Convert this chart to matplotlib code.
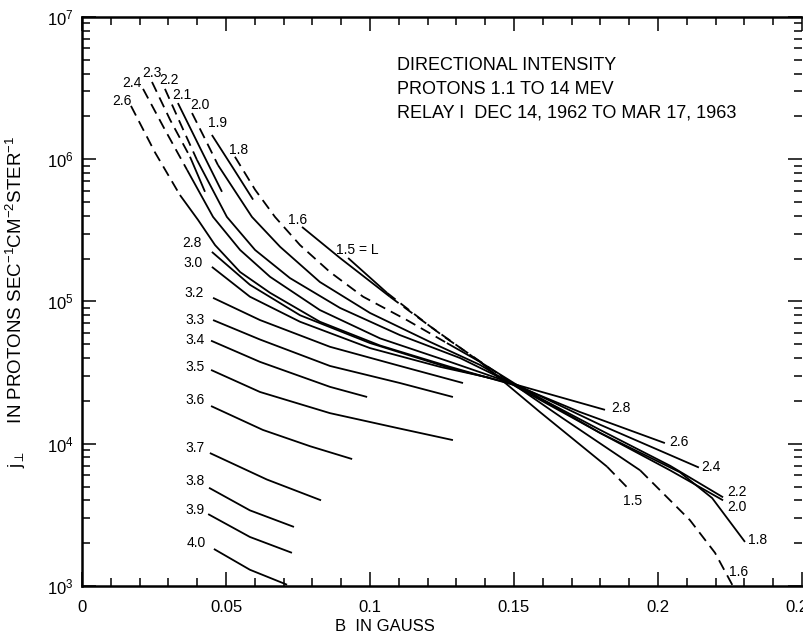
import matplotlib
matplotlib.use("Agg")
import matplotlib.pyplot as plt
from matplotlib.ticker import MultipleLocator, LogLocator, FuncFormatter, NullFormatter
import numpy as np

plt.rcParams['font.family'] = ['Liberation Sans', 'DejaVu Sans']
plt.rcParams['mathtext.fontset'] = 'custom'
plt.rcParams['mathtext.rm'] = 'Liberation Sans'
plt.rcParams['mathtext.it'] = 'Liberation Sans'

# ---------------- DATA (B in gauss, j in protons/s/cm2/ster) ----------------
# style string: one char per segment, d = dashed, s = solid
B_26 = [0.0170, 0.0253, 0.0340, 0.0403, 0.0462, 0.0549, 0.0653, 0.0826, 0.1035, 0.1278, 0.1510, 0.1729, 0.2024]
J_26 = [2.37e6, 1.12e6, 5.6e5, 3.74e5, 2.49e5, 1.61e5, 1.15e5, 7.2e4, 4.9e4, 3.47e4, 2.55e4, 1.67e4, 1.01e4]
S_26 = "ddssssssssss"

B_28 = [0.0451, 0.0583, 0.0757, 0.1000, 0.1278, 0.1510, 0.1816]
J_28 = [2.23e5, 1.31e5, 8.0e4, 5.1e4, 3.40e4, 2.59e4, 1.73e4]
S_28 = "ssssss"

B_30 = [0.0451, 0.0583, 0.0757, 0.1000, 0.1243, 0.1417]
J_30 = [1.75e5, 1.08e5, 7.2e4, 4.7e4, 3.47e4, 2.90e4]
S_30 = "sssss"

B_24 = [0.0212, 0.0288, 0.0365, 0.0455, 0.0549, 0.0653, 0.0826, 0.1035, 0.1278, 0.1510, 0.1799, 0.2142]
J_24 = [3.12e6, 1.61e6, 8.4e5, 3.93e5, 2.30e5, 1.49e5, 8.7e4, 5.5e4, 3.76e4, 2.59e4, 1.36e4, 6.8e3]
S_24 = "ddsssssssss"

B_23 = [0.0243, 0.0306, 0.0375, 0.0427]
J_23 = [3.49e6, 1.89e6, 1.04e6, 5.9e5]
S_23 = "dds"

B_22 = [0.0288, 0.0344, 0.0399, 0.0503, 0.0601, 0.0722, 0.0896, 0.1104, 0.1313, 0.1510, 0.1799, 0.2042, 0.2226]
J_22 = [3.12e6, 1.74e6, 9.9e5, 3.93e5, 2.30e5, 1.46e5, 9.0e4, 5.8e4, 4.0e4, 2.55e4, 1.25e4, 7.0e3, 4.2e3]
S_22 = "ddssssssssss"

B_21 = [0.0333, 0.0410, 0.0486]
J_21 = [2.48e6, 1.20e6, 5.9e5]
S_21 = "ss"

B_20 = [0.0382, 0.0427, 0.0472, 0.0590, 0.0688, 0.0826, 0.1000, 0.1208, 0.1382, 0.1510, 0.1799, 0.2042, 0.2226]
J_20 = [2.11e6, 1.39e6, 9.1e5, 3.93e5, 2.42e5, 1.37e5, 8.3e4, 5.2e4, 3.58e4, 2.50e4, 1.19e4, 6.5e3, 4.0e3]
S_20 = "ddssssssssss"

B_19 = [0.0451, 0.0524, 0.0594]
J_19 = [1.48e6, 8.7e5, 5.2e5]
S_19 = "ss"

B_18 = [0.0531, 0.0601, 0.0670, 0.0757, 0.0861, 0.0976, 0.1128, 0.1267, 0.1382, 0.1510, 0.1799, 0.2076, 0.2188, 0.2302]
J_18 = [1.04e6, 6.1e5, 3.93e5, 2.49e5, 1.61e5, 1.08e5, 7.4e4, 5.1e4, 3.76e4, 2.59e4, 1.19e4, 6.3e3, 4.15e3, 2.04e3]
S_18 = "dddddddssssss"

B_16 = [0.0764, 0.0896, 0.1069, 0.1260, 0.1451, 0.1667, 0.1938, 0.2111, 0.2198, 0.2260]
J_16 = [3.34e5, 2.02e5, 1.08e5, 5.6e4, 3.04e4, 1.52e4, 6.5e3, 2.9e3, 1.71e3, 1.0e3]
S_16 = "ssddssddd"

B_15 = [0.0924, 0.1059, 0.1208, 0.1382, 0.1590, 0.1823, 0.1903]
J_15 = [2.02e5, 1.15e5, 6.7e4, 3.76e4, 1.67e4, 6.9e3, 4.7e3]
S_15 = "sddssd"

B_32 = [0.0455, 0.0618, 0.0861, 0.1104, 0.1323]
J_32 = [1.06e5, 7.4e4, 4.8e4, 3.52e4, 2.67e4]
B_33 = [0.0455, 0.0618, 0.0861, 0.1104, 0.1288]
J_33 = [7.4e4, 5.4e4, 3.52e4, 2.67e4, 2.13e4]
B_34 = [0.0448, 0.0618, 0.0861, 0.0990]
J_34 = [5.3e4, 3.76e4, 2.51e4, 2.13e4]
B_35 = [0.0448, 0.0618, 0.0861, 0.1094, 0.1288]
J_35 = [3.30e4, 2.31e4, 1.64e4, 1.29e4, 1.06e4]
B_36 = [0.0448, 0.0628, 0.0792, 0.0938]
J_36 = [1.84e4, 1.25e4, 9.6e3, 7.8e3]
B_37 = [0.0444, 0.0642, 0.0830]
J_37 = [8.6e3, 5.6e3, 4.0e3]
B_38 = [0.0441, 0.0583, 0.0736]
J_38 = [4.9e3, 3.4e3, 2.6e3]
B_39 = [0.0438, 0.0583, 0.0729]
J_39 = [3.2e3, 2.21e3, 1.71e3]
B_40 = [0.0458, 0.0583, 0.0712]
J_40 = [1.82e3, 1.30e3, 1.02e3]

curves = [
    (B_26, J_26, S_26), (B_28, J_28, S_28), (B_30, J_30, S_30),
    (B_24, J_24, S_24), (B_23, J_23, S_23), (B_22, J_22, S_22),
    (B_21, J_21, S_21), (B_20, J_20, S_20), (B_19, J_19, S_19),
    (B_18, J_18, S_18), (B_16, J_16, S_16), (B_15, J_15, S_15),
    (B_32, J_32, None), (B_33, J_33, None), (B_34, J_34, None),
    (B_35, J_35, None), (B_36, J_36, None), (B_37, J_37, None),
    (B_38, J_38, None), (B_39, J_39, None), (B_40, J_40, None),
]

# curve labels: text, B, j
labels_top = [("2.6", 0.0139, 2.56e6), ("2.4", 0.0174, 3.44e6), ("2.3", 0.0243, 4.04e6),
              ("2.2", 0.0302, 3.6e6), ("2.1", 0.0347, 2.83e6), ("2.0", 0.0410, 2.40e6),
              ("1.9", 0.0472, 1.80e6), ("1.8", 0.0542, 1.16e6), ("1.6", 0.0750, 3.74e5),
              ("1.5 = L", 0.0955, 2.30e5)]
labels_left = [("2.8", 0.0382, 2.58e5), ("3.0", 0.0385, 1.87e5), ("3.2", 0.0389, 1.15e5),
               ("3.3", 0.0392, 7.4e4), ("3.4", 0.0392, 5.4e4), ("3.5", 0.0392, 3.47e4),
               ("3.6", 0.0392, 2.03e4), ("3.7", 0.0392, 9.3e3), ("3.8", 0.0392, 5.5e3),
               ("3.9", 0.0392, 3.42e3), ("4.0", 0.0396, 2.0e3)]
labels_right = [("2.8", 0.1872, 1.78e4), ("2.6", 0.2073, 1.03e4), ("2.4", 0.2184, 6.9e3),
                ("2.2", 0.2274, 4.6e3), ("2.0", 0.2274, 3.6e3), ("1.8", 0.2344, 2.10e3),
                ("1.5", 0.1913, 3.96e3), ("1.6", 0.2281, 1.25e3)]

title_lines = ["DIRECTIONAL INTENSITY", "PROTONS 1.1 TO 14 MEV",
               "RELAY I  DEC 14, 1962 TO MAR 17, 1963"]

# ---------------- FIGURE ----------------
fig = plt.figure(figsize=(8.04, 6.39), dpi=100)
ax = fig.add_axes([0.102, 0.083, 0.8955, 0.8905])
ax.set_yscale('log')
ax.set_xlim(0, 0.25)
ax.set_ylim(1e3, 1e7)

LW = 1.3
DASH = (0, (6, 3.5))

# ---------------- CURVES ----------------
for B, J, style in curves:
    if style is None:
        style = "s" * (len(B) - 1)
    i = 0
    while i < len(style):
        k = i
        while k < len(style) and style[k] == style[i]:
            k += 1
        ls = DASH if style[i] == "d" else "-"
        ax.plot(B[i:k + 1], J[i:k + 1], color="black", lw=LW, linestyle=ls,
                solid_capstyle="butt", dash_capstyle="butt")
        i = k

# ---------------- LABELS ----------------
for txt, b, j in labels_top + labels_left + labels_right:
    ax.text(b, j, txt, fontsize=10, ha="center", va="center")

for n, line in enumerate(title_lines):
    ax.text(0.438, 0.915 - n * 0.042, line, transform=ax.transAxes,
            fontsize=13, ha="left", va="center")

# ---------------- AXES STYLE ----------------
ax.xaxis.set_major_locator(MultipleLocator(0.05))
ax.xaxis.set_minor_locator(MultipleLocator(0.01))
ax.xaxis.set_major_formatter(FuncFormatter(lambda v, p: "0" if abs(v) < 1e-9 else f"{v:g}"))
ax.yaxis.set_major_locator(LogLocator(base=10))
ax.yaxis.set_minor_locator(LogLocator(base=10, subs=np.arange(2, 10)))
ax.yaxis.set_minor_formatter(NullFormatter())
ax.yaxis.set_major_formatter(FuncFormatter(lambda v, p: r"$10^{%d}$" % round(np.log10(v))))

ax.tick_params(which="both", direction="in", top=True, right=True, width=1.1)
ax.tick_params(which="major", length=10)
ax.tick_params(which="minor", length=6)
ax.tick_params(axis="x", labelsize=12, pad=10)
ax.tick_params(axis="y", labelsize=12, pad=6)

for side in ["left", "bottom", "top"]:
    ax.spines[side].set_linewidth(1.8)
ax.spines["right"].set_visible(False)

ax.set_xlabel("B  IN GAUSS", fontsize=12)
ax.xaxis.set_label_coords(0.42, -0.058)
ax.set_ylabel(r"$\mathrm{j}_{\perp}$     IN PROTONS SEC$^{-1}$CM$^{-2}$STER$^{-1}$", fontsize=13.5)
ax.yaxis.set_label_coords(-0.075, 0.5)

fig.savefig("out.png", dpi=100)
plt.close(fig)
